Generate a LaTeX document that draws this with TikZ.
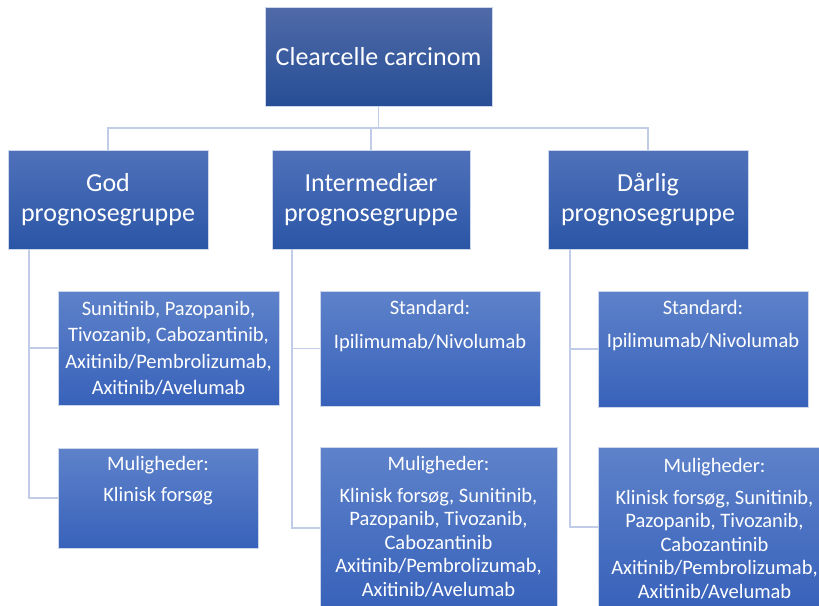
\documentclass[tikz,border=0pt]{standalone}
\usepackage{fontspec}
\setmainfont{Carlito}
\definecolor{conncol}{RGB}{192,204,232}
\definecolor{edgecol}{RGB}{205,214,235}
\definecolor{topA}{RGB}{80,106,168}
\definecolor{topB}{RGB}{38,78,150}
\definecolor{midA}{RGB}{80,113,186}
\definecolor{midB}{RGB}{42,86,166}
\definecolor{lowA}{RGB}{94,130,202}
\definecolor{lowB}{RGB}{56,98,186}
\tikzset{
  box/.style={rectangle, draw=edgecol, line width=0.8pt, inner sep=0pt, outer sep=0pt},
  topbox/.style={box, top color=topA, bottom color=topB, text=white, font=\fontsize{26}{30}\selectfont},
  midbox/.style={box, top color=midA, bottom color=midB, text=white, align=center, font=\fontsize{26}{30.5}\selectfont},
  lowbox/.style={box, top color=lowA, bottom color=lowB},
  lowtxt/.style={anchor=north, inner sep=0pt, text=white, align=center},
  conn/.style={draw=conncol, line width=1.3pt}
}
\begin{document}
\begin{tikzpicture}[x=1pt,y=-1pt]
\clip (0,0) rectangle (819,605);
\fill[white] (0,0) rectangle (819,605);

% top level
\node[topbox, minimum width=227pt, minimum height=99pt] (top) at (378.5,56.5) {Clearcelle carcinom};

% second level
\node[midbox, minimum width=200pt, minimum height=99pt] (g) at (108,199.5) {God\\prognosegruppe};
\node[midbox, minimum width=198pt, minimum height=99pt] (i) at (371,199.5) {Intermediær\\prognosegruppe};
\node[midbox, minimum width=200pt, minimum height=99pt] (d) at (648,199.5) {Dårlig\\prognosegruppe};

% third level boxes
\node[lowbox, minimum width=221pt, minimum height=114pt] (l1) at (168.5,348) {};
\node[lowbox, minimum width=200pt, minimum height=100pt] (l2) at (158,498) {};
\node[lowbox, minimum width=220pt, minimum height=115pt] (m1) at (430,348.5) {};
\node[lowbox, minimum width=237pt, minimum height=162pt] (m2) at (438.5,528) {};
\node[lowbox, minimum width=210pt, minimum height=116pt] (r1) at (703,349) {};
\node[lowbox, minimum width=234pt, minimum height=160pt] (r2) at (715,527) {};

% third level texts
\node[lowtxt, font=\fontsize{20.5}{26.5}\selectfont] (l1t) at (168.5,301)
  {Sunitinib, Pazopanib,\\Tivozanib, Cabozantinib,\\Axitinib/Pembrolizumab,\\Axitinib/Avelumab};
\node[lowtxt, font=\fontsize{20.5}{26}\selectfont] (l2t) at (158,456)
  {Muligheder:\\[5pt]Klinisk forsøg};
\node[lowtxt, font=\fontsize{20.5}{26}\selectfont] (m1t) at (430,300.5)
  {Standard:\\[8pt]Ipilimumab/Nivolumab};
\node[lowtxt, font=\fontsize{20.5}{23.5}\selectfont] (m2t) at (438.5,456)
  {Muligheder:\\[8.5pt]Klinisk forsøg, Sunitinib,\\Pazopanib, Tivozanib,\\Cabozantinib\\Axitinib/Pembrolizumab,\\Axitinib/Avelumab};
\node[lowtxt, font=\fontsize{20.5}{26}\selectfont] (r1t) at (703,300.5)
  {Standard:\\[7pt]Ipilimumab/Nivolumab};
\node[lowtxt, font=\fontsize{20.5}{23.5}\selectfont] (r2t) at (714.5,458)
  {Muligheder:\\[8.5pt]Klinisk forsøg, Sunitinib,\\Pazopanib, Tivozanib,\\Cabozantinib\\Axitinib/Pembrolizumab,\\Axitinib/Avelumab};

% connectors top -> second level
\coordinate (bus) at (0,128);
\draw[conn] (top.south) -- (top.south |- bus);
\draw[conn] (g.north) -- (g.north |- bus) -- (d.north |- bus) -- (d.north);
\draw[conn] (i.north) -- (i.north |- bus);

% connectors second -> third level
\coordinate (gs) at ([xshift=21pt]g.south west);
\coordinate (is) at ([xshift=20pt]i.south west);
\coordinate (ds) at ([xshift=22pt]d.south west);
\draw[conn] (gs) |- (l2.west);
\draw[conn] (gs |- l1.west) -- (l1.west);
\draw[conn] (is) |- (m2.west);
\draw[conn] (is |- m1.west) -- (m1.west);
\draw[conn] (ds) |- (r2.west);
\draw[conn] (ds |- r1.west) -- (r1.west);
\end{tikzpicture}
\end{document}
